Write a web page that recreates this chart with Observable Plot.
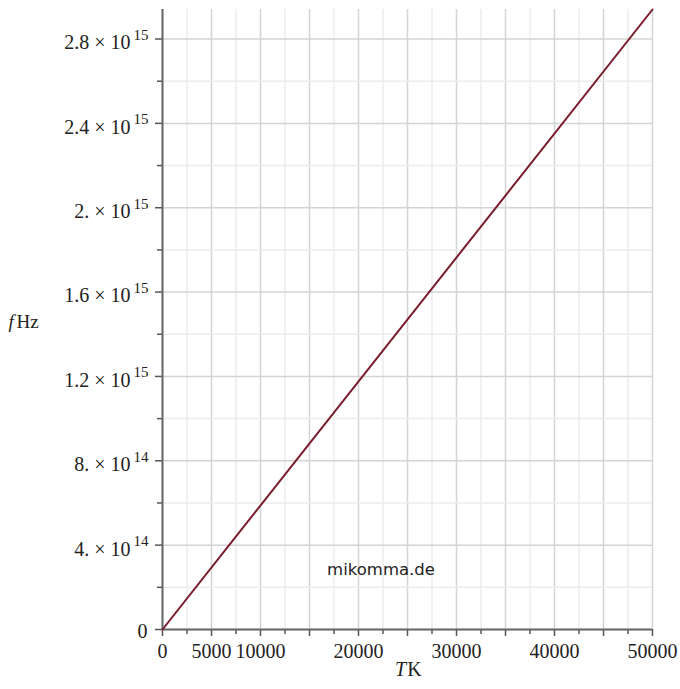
<!DOCTYPE html>
<html>
<head>
<meta charset="utf-8">
<script src="https://cdn.jsdelivr.net/npm/d3@7"></script>
<script src="https://cdn.jsdelivr.net/npm/@observablehq/plot@0.6"></script>
<style>
  html, body { margin: 0; padding: 0; background: #fff; }
  #chart svg { display: block; }
</style>
</head>
<body>
<div id="chart"></div>
<script>
// Data: f (Hz) versus T (K)
const T = [0, 50000];
const f = [0, 2.94e15];

// Tick values and labels
const xMajorTicks = [0, 5000, 10000, 15000, 20000, 25000, 30000, 35000, 40000, 45000, 50000];
const xTickLabels = ["0", "5000", "10000", "", "20000", "", "30000", "", "40000", "", "50000"];
const xMinorTicks = [2500, 7500, 12500, 17500, 22500, 27500, 32500, 37500, 42500, 47500];

const yMajorTicks = [0, 4e14, 8e14, 1.2e15, 1.6e15, 2e15, 2.4e15, 2.8e15];
const yMantissa = ["0", "4. \u00d7 10", "8. \u00d7 10", "1.2 \u00d7 10", "1.6 \u00d7 10", "2. \u00d7 10", "2.4 \u00d7 10", "2.8 \u00d7 10"];
const yExponent = ["", "14", "14", "15", "15", "15", "15", "15"];
const yMinorTicks = [2e14, 6e14, 1e15, 1.4e15, 1.8e15, 2.2e15, 2.6e15];

const data = T.map((t, i) => ({T: t, f: f[i]}));
const yTickRows = yMajorTicks.map((v, i) => ({v, m: yMantissa[i], e: yExponent[i]}));
const yZero = yTickRows.filter(d => d.e === "");
const yPow = yTickRows.filter(d => d.e !== "");

const serif = "'Liberation Serif', 'Times New Roman', serif";

const chart = Plot.plot({
  width: 680,
  height: 689,
  marginLeft: 162,
  marginRight: 28,
  marginTop: 9,
  marginBottom: 60,
  style: {fontFamily: serif, fontSize: "20px", color: "#222", background: "#fff"},
  x: {domain: [0, 50000]},
  y: {domain: [0, 2.94e15]},
  marks: [
    // grid
    Plot.ruleX(xMinorTicks, {stroke: "#ececec", strokeWidth: 1.5}),
    Plot.ruleX(xMajorTicks, {stroke: "#d4d4d4", strokeWidth: 1.5}),
    Plot.ruleY(yMinorTicks, {stroke: "#ececec", strokeWidth: 1.5}),
    Plot.ruleY(yMajorTicks, {stroke: "#d4d4d4", strokeWidth: 1.5}),
    // axes ticks
    Plot.axisX({ticks: xMinorTicks, tickSize: 5, tickFormat: () => "", stroke: "#555", strokeWidth: 1.5, label: null}),
    Plot.axisX({ticks: xMajorTicks, tickSize: 7, tickPadding: 7, tickFormat: (d, i) => xTickLabels[i],
      stroke: "#555", strokeWidth: 1.5, fontSize: 20, fill: "#222", label: null}),
    Plot.axisY({ticks: yMinorTicks, tickSize: 5, tickFormat: () => "", stroke: "#555", strokeWidth: 1.5, label: null}),
    Plot.axisY({ticks: yMajorTicks, tickSize: 7, tickFormat: () => "", stroke: "#555", strokeWidth: 1.5, label: null}),
    // y tick labels with superscript exponents
    Plot.text(yPow, {x: () => 0, y: "v", text: "m", textAnchor: "end", dx: -32, dy: 4, fontSize: 20, fill: "#222"}),
    Plot.text(yPow, {x: () => 0, y: "v", text: "e", textAnchor: "end", dx: -14, dy: -4, fontSize: 15, fill: "#222"}),
    Plot.text(yZero, {x: () => 0, y: "v", text: "m", textAnchor: "end", dx: -15, dy: 2, fontSize: 20, fill: "#222"}),
    // axis lines
    Plot.ruleX([0], {stroke: "#666", strokeWidth: 2}),
    Plot.ruleY([0], {stroke: "#666", strokeWidth: 2}),
    // the curve
    Plot.line(data, {x: "T", y: "f", stroke: "#7a1c2c", strokeWidth: 2}),
    // watermark
    Plot.text(["mikomma.de"], {x: () => 22300, y: () => 2.84e14, fontFamily: "'DejaVu Sans', sans-serif",
      fontSize: 16.5, fill: "#222"}),
    // axis labels
    Plot.text(["T"], {frameAnchor: "bottom", dx: -7, dy: 46, fontStyle: "italic", fontSize: 20, fill: "#222"}),
    Plot.text(["K"], {frameAnchor: "bottom", dx: 7, dy: 46, fontSize: 20, fill: "#222"}),
    Plot.text(["f"], {frameAnchor: "left", dx: -154, dy: 2, fontStyle: "italic", fontSize: 19, fill: "#222", textAnchor: "start"}),
    Plot.text(["Hz"], {frameAnchor: "left", dx: -146, dy: 2, fontSize: 19, fill: "#222", textAnchor: "start"})
  ]
});

document.getElementById("chart").appendChild(chart);
</script>
</body>
</html>
